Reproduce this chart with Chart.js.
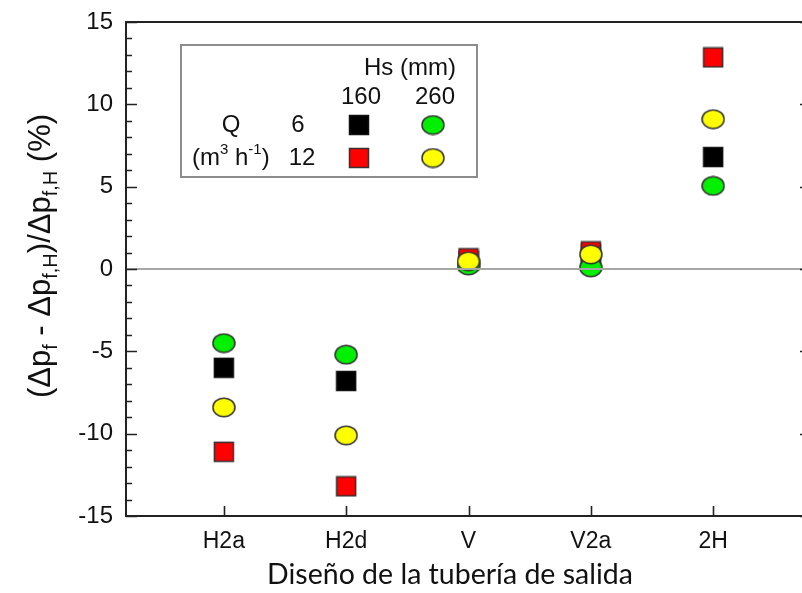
<!DOCTYPE html>
<html>
<head>
<meta charset="utf-8">
<script src="https://cdn.jsdelivr.net/npm/chart.js@4.4.0/dist/chart.umd.min.js"></script>
<style>
  html, body { margin: 0; padding: 0; background: #fff; overflow: hidden; }
  #wrap { position: relative; width: 816px; height: 593px; }
</style>
</head>
<body>
<div id="wrap"><canvas id="chart" width="816" height="593"></canvas></div>
<script>
// categorías del eje x (diseño de la tubería de salida)
const categories = ['H2a', 'H2d', 'V', 'V2a', '2H'];
const yTicks = [-15, -10, -5, 0, 5, 10, 15];

// valores (%)
const q6hs160  = [-6.0, -6.8, 0.5, 0.9, 6.8];       // cuadrado negro
const q6hs260  = [-4.5, -5.2, 0.22, 0.1, 5.05];     // círculo verde
const q12hs160 = [-11.1, -13.2, 0.65, 1.07, 12.85]; // cuadrado rojo
const q12hs260 = [-8.4, -10.1, 0.47, 0.89, 9.1];    // círculo amarillo

const AXIS_FONT = '"Liberation Sans", Arial, sans-serif';
const TITLE_FONT = 'Lato, "Open Sans", sans-serif';

// marcadores como pequeños canvas (cuadrado y elipse)
function squareMarker(fill, stroke) {
  const c = document.createElement('canvas');
  c.width = 22; c.height = 22;
  const g = c.getContext('2d');
  g.fillStyle = fill;
  g.fillRect(1, 1, 20, 20);
  g.strokeStyle = stroke;
  g.lineWidth = 1.5;
  g.strokeRect(1.5, 1.5, 19, 19);
  return c;
}
function ellipseMarker(fill) {
  const c = document.createElement('canvas');
  c.width = 24; c.height = 21;
  const g = c.getContext('2d');
  g.beginPath();
  g.ellipse(12, 10.5, 11, 9.3, 0, 0, Math.PI * 2);
  g.fillStyle = fill;
  g.fill();
  g.strokeStyle = '#333';
  g.lineWidth = 1.5;
  g.stroke();
  return c;
}

const mBlack = squareMarker('#000000', '#111');
const mRed = squareMarker('#ff0000', '#333');
const mGreen = ellipseMarker('#00f000');
const mYellow = ellipseMarker('#ffff00');

function toPoints(values) {
  return values.map((v, i) => ({ x: i + 1, y: v }));
}

// marco, marcas de los ejes, línea del cero, títulos y leyenda
const decorPlugin = {
  id: 'decor',
  afterDatasetsDraw(chart) {
    const { ctx, chartArea: a, scales: { x, y } } = chart;
    ctx.save();
    // línea del cero
    const y0 = y.getPixelForValue(0);
    ctx.strokeStyle = '#a6a6a6';
    ctx.lineWidth = 2;
    ctx.beginPath();
    ctx.moveTo(a.left, y0);
    ctx.lineTo(a.right, y0);
    ctx.stroke();

    // marco
    ctx.strokeStyle = '#222';
    ctx.lineWidth = 2;
    ctx.strokeRect(a.left, a.top, a.right - a.left, a.bottom - a.top);

    // marcas del eje y (mayores y menores), izquierda y derecha
    ctx.lineWidth = 1.6;
    ctx.beginPath();
    for (let v = -15; v <= 15; v++) {
      const py = Math.round(y.getPixelForValue(v)) + 0.5;
      const len = v % 5 === 0 ? 11 : 6;
      ctx.moveTo(a.left, py); ctx.lineTo(a.left + len, py);
      ctx.moveTo(a.right, py); ctx.lineTo(a.right - len, py);
    }
    // marcas del eje x
    for (let i = 1; i <= categories.length; i++) {
      const px = Math.round(x.getPixelForValue(i)) + 0.5;
      ctx.moveTo(px, a.bottom); ctx.lineTo(px, a.bottom - 10);
    }
    ctx.stroke();
    ctx.restore();
  },
  afterDraw(chart) {
    const { ctx } = chart;
    ctx.save();
    ctx.fillStyle = '#111';

    // título del eje y con subíndices
    const segs = [
      ['(\u0394p', 0], ['f', 1], [' - \u0394p', 0], ['f,H', 1],
      [')/\u0394p', 0], ['f,H', 1], [' (%)', 0]
    ];
    const mainF = '31px ' + AXIS_FONT, subF = '20px ' + AXIS_FONT;
    let w = 0;
    segs.forEach(s => { ctx.font = s[1] ? subF : mainF; w += ctx.measureText(s[0]).width; });
    ctx.translate(50, 256);
    ctx.rotate(-Math.PI / 2);
    ctx.textBaseline = 'alphabetic';
    ctx.textAlign = 'left';
    let cx = -w / 2;
    segs.forEach(s => {
      ctx.font = s[1] ? subF : mainF;
      ctx.fillText(s[0], cx, s[1] ? 7 : 0);
      cx += ctx.measureText(s[0]).width;
    });
    ctx.setTransform(1, 0, 0, 1, 0, 0);

    // título del eje x
    ctx.font = '28.5px ' + TITLE_FONT;
    ctx.textAlign = 'center';
    ctx.textBaseline = 'alphabetic';
    ctx.fillText('Diseño de la tubería de salida', 450, 584);

    // leyenda
    ctx.fillStyle = '#fff';
    ctx.fillRect(181, 45, 296, 132);
    ctx.strokeStyle = '#8c8c8c';
    ctx.lineWidth = 2;
    ctx.strokeRect(181, 45, 296, 132);
    ctx.fillStyle = '#111';
    ctx.font = '24px ' + AXIS_FONT;
    ctx.textBaseline = 'middle';
    ctx.textAlign = 'right';
    ctx.fillText('Hs (mm)', 456, 68);
    ctx.textAlign = 'center';
    ctx.fillText('160', 361, 97);
    ctx.fillText('260', 435, 97);
    ctx.fillText('Q', 231, 125);
    ctx.fillText('6', 298, 125);
    ctx.fillText('12', 302, 158);
    // (m³ h⁻¹)
    ctx.textAlign = 'left';
    const unit = [['(m', 0], ['3', 1], [' h', 0], ['-1', 1], [')', 0]];
    let ux = 192;
    unit.forEach(s => {
      ctx.font = (s[1] ? '15px ' : '24px ') + AXIS_FONT;
      ctx.fillText(s[0], ux, s[1] ? 150 : 158);
      ux += ctx.measureText(s[0]).width;
    });
    ctx.drawImage(mBlack, 359 - 11, 125 - 11);
    ctx.drawImage(mGreen, 433 - 12, 125 - 10.5);
    ctx.drawImage(mRed, 359 - 11, 158 - 11);
    ctx.drawImage(mYellow, 433 - 12, 158 - 10.5);
    ctx.restore();
  }
};

new Chart(document.getElementById('chart'), {
  type: 'scatter',
  data: {
    datasets: [
      { label: 'Q 12, Hs 260', data: toPoints(q12hs260), pointStyle: mYellow, order: 0 },
      { label: 'Q 6, Hs 260', data: toPoints(q6hs260), pointStyle: mGreen, order: 1 },
      { label: 'Q 12, Hs 160', data: toPoints(q12hs160), pointStyle: mRed, order: 2 },
      { label: 'Q 6, Hs 160', data: toPoints(q6hs160), pointStyle: mBlack, order: 3 }
    ]
  },
  options: {
    responsive: false,
    animation: false,
    layout: { padding: { top: 22, right: 5, left: 0, bottom: 0 } },
    plugins: { legend: { display: false }, tooltip: { enabled: false } },
    scales: {
      x: {
        type: 'linear',
        min: 0.2,
        max: 5.8,
        grid: { display: false, drawTicks: false },
        border: { display: false },
        afterBuildTicks: s => { s.ticks = categories.map((c, i) => ({ value: i + 1 })); },
        afterFit: s => { s.height = 77; s.paddingLeft = 0; s.paddingRight = 0; },
        ticks: {
          padding: 12,
          color: '#111',
          font: { family: AXIS_FONT, size: 23 },
          callback: v => categories[v - 1]
        }
      },
      y: {
        min: -15,
        max: 15,
        grid: { display: false, drawTicks: false },
        border: { display: false },
        afterBuildTicks: s => { s.ticks = yTicks.map(v => ({ value: v })); },
        afterFit: s => { s.width = 126; s.paddingTop = 0; s.paddingBottom = 0; },
        ticks: {
          padding: 13,
          color: '#111',
          font: { family: AXIS_FONT, size: 24 }
        }
      }
    }
  },
  plugins: [decorPlugin]
});
</script>
</body>
</html>
